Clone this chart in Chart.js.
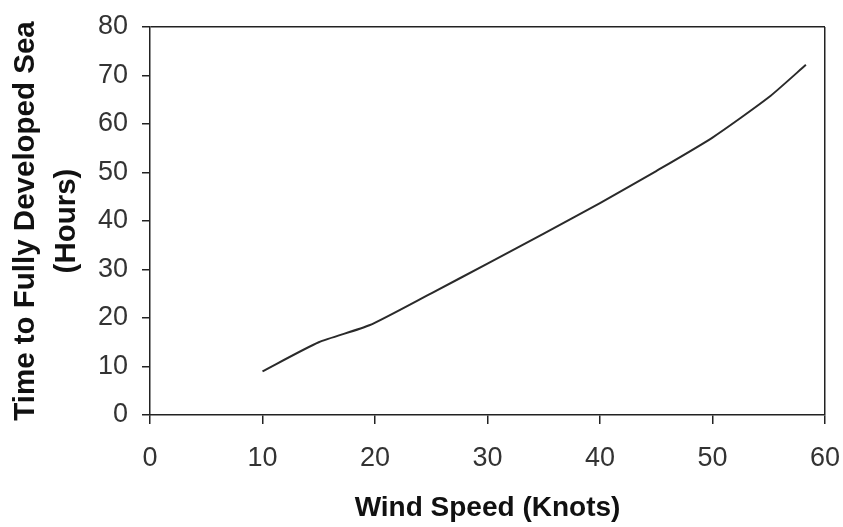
<!DOCTYPE html>
<html>
<head>
<meta charset="utf-8">
<script src="https://cdn.jsdelivr.net/npm/chart.js@4/dist/chart.umd.min.js"></script>
<style>
  html, body { margin: 0; padding: 0; background: #fff; }
  #wrap { width: 843px; height: 527px; }
</style>
</head>
<body>
<div id="wrap"><canvas id="c" width="843" height="527"></canvas></div>
<script>
// Data
const windSpeed = [10, 15, 19.5, 25, 30, 35, 40, 45, 50, 55, 58.3];
const hoursToFullSea = [9, 15, 18.5, 25.1, 31.2, 37.4, 43.7, 50.3, 57.2, 65.5, 72.2];
const xTitle = 'Wind Speed (Knots)';
const yTitle = ['Time to Fully Developed Sea', '(Hours)'];
const xTicks = { min: 0, max: 60, step: 10 };
const yTicks = { min: 0, max: 80, step: 10 };

const FONT = '"Liberation Sans", Arial, Helvetica, sans-serif';
const INK = '#222';

const points = windSpeed.map((x, i) => ({ x: x, y: hoursToFullSea[i] }));

new Chart(document.getElementById('c'), {
  type: 'line',
  data: {
    datasets: [{
      data: points,
      borderColor: '#2a2a2a',
      borderWidth: 2,
      pointRadius: 0,
      tension: 0.2,
      fill: false
    }]
  },
  options: {
    responsive: false,
    animation: false,
    devicePixelRatio: 1,
    layout: { padding: { left: 0, top: 27, right: 18, bottom: 0 } },
    plugins: { legend: { display: false }, tooltip: { enabled: false } },
    scales: {
      x: {
        type: 'linear',
        min: xTicks.min, max: xTicks.max,
        afterFit: (s) => { s.height = 112; s.paddingLeft = 0; s.paddingRight = 0; },
        ticks: { stepSize: xTicks.step, color: '#333', padding: 18,
                 font: { family: FONT, size: 27 } },
        grid: {
          color: (c) => (c.tick && c.tick.value === xTicks.max) ? INK : 'rgba(0,0,0,0)',
          tickColor: INK, tickLength: 9, lineWidth: 1.5, drawOnChartArea: true
        },
        border: { color: INK, width: 1.5 },
        title: { display: true, text: xTitle, color: '#111',
                 font: { family: FONT, size: 28, weight: 'bold' },
                 padding: { top: 0, bottom: 2 } }
      },
      y: {
        type: 'linear',
        min: yTicks.min, max: yTicks.max,
        afterFit: (s) => { s.width = 150; s.paddingTop = 0; s.paddingBottom = 0; },
        ticks: { stepSize: yTicks.step, color: '#333', padding: 14,
                 font: { family: FONT, size: 27 } },
        grid: {
          color: (c) => (c.tick && c.tick.value === yTicks.max) ? INK : 'rgba(0,0,0,0)',
          tickColor: INK, tickLength: 8, lineWidth: 1.5
        },
        border: { color: INK, width: 1.5 },
        title: { display: true, text: yTitle, color: '#111',
                 font: { family: FONT, size: 29.5, weight: 'bold', lineHeight: 1.4 },
                 padding: { top: 5, bottom: 0 } }
      }
    }
  }
});
</script>
</body>
</html>
